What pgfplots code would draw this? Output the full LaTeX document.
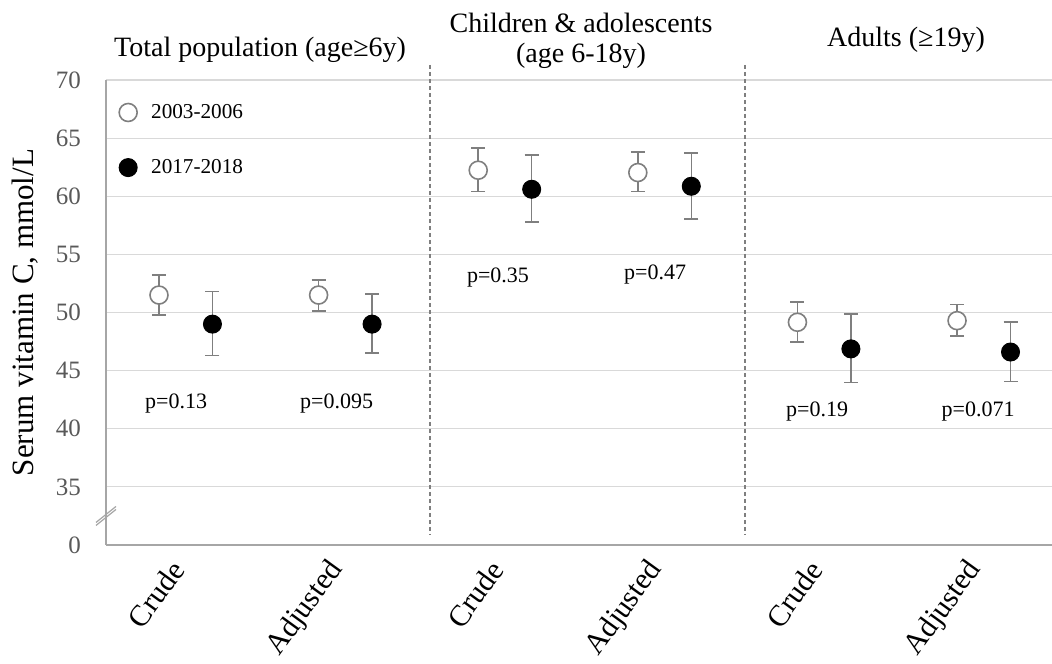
\documentclass[border=0pt]{standalone}
\usepackage{fontspec}
\setmainfont{Liberation Serif}
\usepackage{pgfplots}
\usepackage{pgfplotstable}
\pgfplotsset{compat=1.18}
\definecolor{gridc}{HTML}{D9D9D9}
\definecolor{axc}{HTML}{A6A6A6}
\definecolor{tickc}{HTML}{595959}
\definecolor{errc}{HTML}{7F7F7F}

\pgfplotstableread{
x y ep em
0 51.50 1.75 1.70
1 51.50 1.30 1.35
2 62.24 1.90 1.84
3 62.04 1.76 1.64
4 49.16 1.74 1.72
5 49.30 1.40 1.34
}\olddata

\pgfplotstableread{
x y ep em
0.335 49.00 2.80 2.70
1.335 49.00 2.60 2.50
2.335 60.60 2.96 2.84
3.335 60.86 2.87 2.81
4.335 46.87 2.98 2.90
5.335 46.60 2.60 2.55
}\newdata

\newcommand{\fs}[1]{\fontsize{#1}{#1}\selectfont}

\begin{document}
\begin{tikzpicture}
\path[use as bounding box] (-53pt,-59pt) rectangle (473pt,272.5pt);
\begin{axis}[
  scale only axis, width=473pt, height=232.5pt,
  xmin=-0.332, xmax=5.595, ymin=30, ymax=70,
  axis x line*=bottom, axis y line*=left,
  axis line style={draw=axc, line width=0.8pt, -},
  ytick={30,35,...,70}, yticklabels={0,35,40,45,50,55,60,65,70},
  ymajorgrids, grid style={gridc, line width=0.6pt},
  xtick={0.1675,1.1675,2.1675,3.1675,4.1675,5.1675},
  xticklabels={Crude,Adjusted,Crude,Adjusted,Crude,Adjusted},
  major tick length=0pt,
  xticklabel style={font=\fs{15}, yshift=-7pt, xshift=-2pt, rotate=54, anchor=east},
  yticklabel style={font=\fs{12.5}, text=tickc, xshift=-9pt},
  /pgf/number format/assume math mode=true,
  ylabel={Serum vitamin C, mmol/L},
  every axis y label/.style={at={(axis description cs:-0.0856,0.5)}, rotate=90, anchor=center, font=\fs{15.5}},
  clip=false,
  legend style={at={(axis cs:-0.252,68.32)}, anchor=north west, draw=none, fill=none,
    font=\fs{10.6}, row sep=15pt, inner sep=0pt},
  legend cell align=left,
  legend image code/.code={\path[draw=none,fill=none] (-4.5pt,0pt) rectangle (9.5pt,0.1pt); \draw[#1] plot coordinates {(0pt,0pt)};},
]
% error bars
\addplot[forget plot, only marks, mark=none, errc,
  error bars/.cd, y dir=both, y explicit,
  error bar style={errc, line width=0.8pt},
  error mark options={rotate=90, errc, mark size=3.5pt, line width=0.8pt}]
  table[x=x, y=y, y error plus=ep, y error minus=em] {\olddata};
\addplot[forget plot, only marks, mark=none, errc,
  error bars/.cd, y dir=both, y explicit,
  error bar style={errc, line width=0.8pt},
  error mark options={rotate=90, errc, mark size=3.5pt, line width=0.8pt}]
  table[x=x, y=y, y error plus=ep, y error minus=em] {\newdata};
% markers
\addplot[only marks, mark=*, mark size=4.5pt, mark options={fill=white, draw=errc, line width=0.8pt}]
  table[x=x, y=y] {\olddata};
\addlegendentry{2003-2006}
\addplot[only marks, mark=*, mark size=4.5pt, mark options={fill=black, draw=black, line width=0.5pt}]
  table[x=x, y=y] {\newdata};
\addlegendentry{2017-2018}
% dividers
\draw[errc, line width=0.6pt, dash pattern=on 2pt off 1.5pt] (axis cs:1.698,71.3) -- (axis cs:1.698,30.9);
\draw[errc, line width=0.6pt, dash pattern=on 2pt off 1.5pt] (axis cs:3.672,71.3) -- (axis cs:3.672,30.9);
% axis break
\draw[axc, line width=0.6pt] ([xshift=-5pt,yshift=-4.75pt]axis cs:-0.332,32.5) -- ([xshift=5pt,yshift=3.25pt]axis cs:-0.332,32.5);
\draw[axc, line width=0.6pt] ([xshift=-5pt,yshift=-3.25pt]axis cs:-0.332,32.5) -- ([xshift=5pt,yshift=4.75pt]axis cs:-0.332,32.5);
% titles
\node[font=\fs{14}, anchor=base] at (axis cs:0.633,71.98) {Total population (age≥6y)};
\node[font=\fs{14}, anchor=base] at (axis cs:2.644,74.05) {Children \& adolescents};
\node[font=\fs{14}, anchor=base] at (axis cs:2.644,71.47) {(age 6-18y)};
\node[font=\fs{14}, anchor=base] at (axis cs:4.68,72.84) {Adults (≥19y)};
% p values
\node[font=\fs{11}, anchor=base] at (axis cs:0.107,41.72) {p=0.13};
\node[font=\fs{11}, anchor=base] at (axis cs:1.113,41.72) {p=0.095};
\node[font=\fs{11}, anchor=base] at (axis cs:2.124,52.61) {p=0.35};
\node[font=\fs{11}, anchor=base] at (axis cs:3.108,52.82) {p=0.47};
\node[font=\fs{11}, anchor=base] at (axis cs:4.123,41.03) {p=0.19};
\node[font=\fs{11}, anchor=base] at (axis cs:5.132,41.03) {p=0.071};
\end{axis}
\end{tikzpicture}
\end{document}
